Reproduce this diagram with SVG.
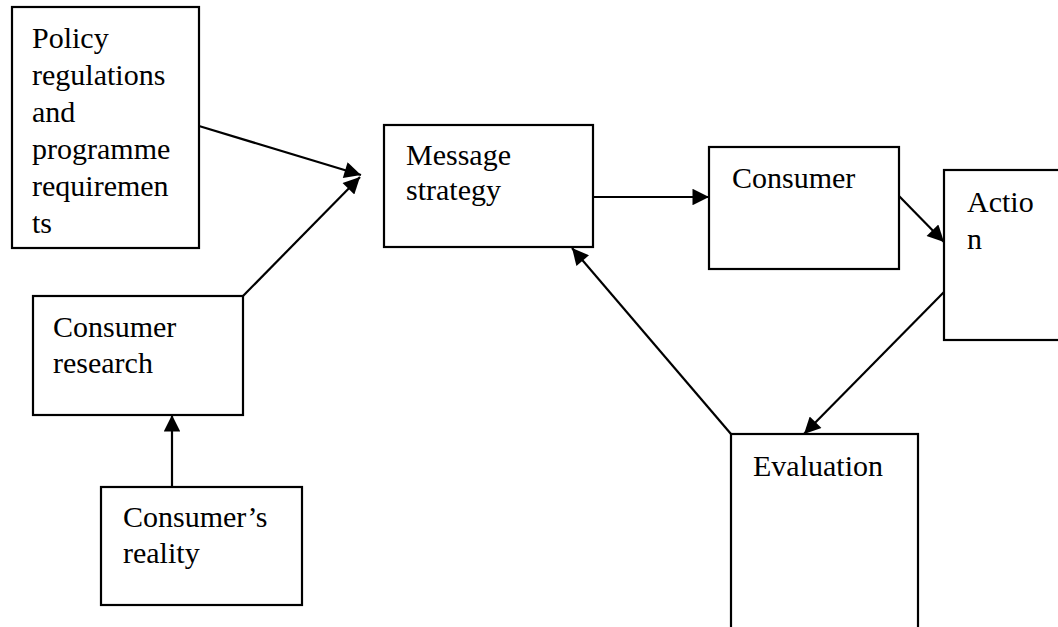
<svg xmlns="http://www.w3.org/2000/svg" width="1058" height="627" viewBox="0 0 1058 627">
<style>
.box{fill:#fff;stroke:#000;stroke-width:2.2}
.lbl{font-family:"Liberation Serif","Times New Roman",serif;font-size:30px;fill:#000}
.edge{stroke:#000;stroke-width:2.2;fill:none;marker-end:url(#ah)}
</style>
<defs>
<marker id="ah" viewBox="0 0 10 10" refX="10" refY="5" markerWidth="8.5" markerHeight="7.5" markerUnits="strokeWidth" orient="auto">
<path d="M0,0 L10,5 L0,10 z" fill="#000"/>
</marker>
</defs>
<rect width="1058" height="627" fill="#fff"/>
<g id="policy">
<rect class="box" x="12" y="7" width="187" height="241"/>
<text class="lbl" x="32" y="48">Policy</text>
<text class="lbl" x="32" y="85">regulations</text>
<text class="lbl" x="32" y="122">and</text>
<text class="lbl" x="32" y="159">programme</text>
<text class="lbl" x="32" y="196">requiremen</text>
<text class="lbl" x="32" y="233">ts</text>
</g>
<g id="message">
<rect class="box" x="384" y="125" width="209" height="122"/>
<text class="lbl" x="406" y="165">Message</text>
<text class="lbl" x="406" y="200">strategy</text>
</g>
<g id="consumer">
<rect class="box" x="709" y="147" width="190" height="122"/>
<text class="lbl" x="732" y="188">Consumer</text>
</g>
<g id="action">
<rect class="box" x="944" y="170" width="130" height="170"/>
<text class="lbl" x="967" y="212">Actio</text>
<text class="lbl" x="967" y="249">n</text>
</g>
<g id="evaluation">
<rect class="box" x="731" y="434" width="187" height="210"/>
<text class="lbl" x="753" y="476">Evaluation</text>
</g>
<g id="research">
<rect class="box" x="33" y="296" width="210" height="119"/>
<text class="lbl" x="53" y="337">Consumer</text>
<text class="lbl" x="53" y="373">research</text>
</g>
<g id="reality">
<rect class="box" x="101" y="487" width="201" height="118"/>
<text class="lbl" x="123" y="527">Consumer’s</text>
<text class="lbl" x="123" y="563">reality</text>
</g>
<g id="connectors">
<line class="edge" x1="199" y1="126" x2="361" y2="175"/>
<line class="edge" x1="243" y1="296" x2="360" y2="177"/>
<line class="edge" x1="593" y1="197" x2="709" y2="197"/>
<line class="edge" x1="899" y1="196" x2="944" y2="242"/>
<line class="edge" x1="944" y1="292" x2="804" y2="434"/>
<line class="edge" x1="731" y1="434" x2="572" y2="248"/>
<line class="edge" x1="172" y1="487" x2="172" y2="415"/>
</g>
</svg>
